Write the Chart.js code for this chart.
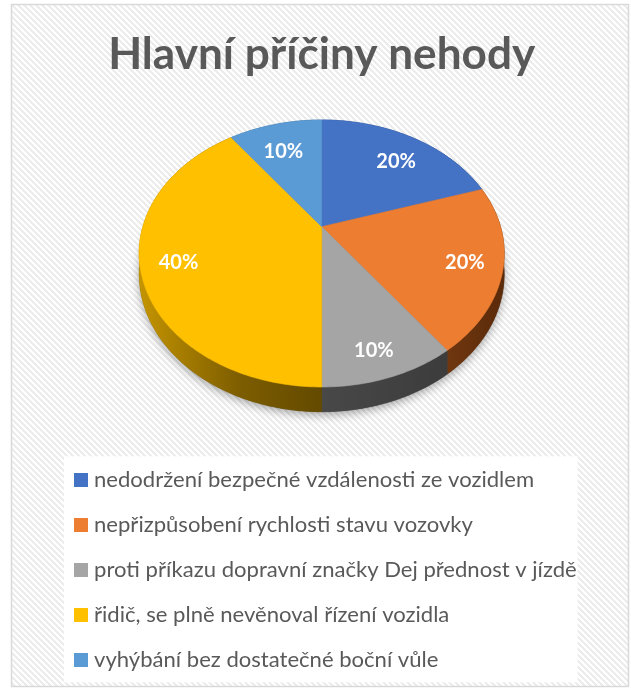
<!DOCTYPE html>
<html>
<head>
<meta charset="utf-8">
<script src="https://cdn.jsdelivr.net/npm/chart.js@4.4.1/dist/chart.umd.min.js"></script>
<style>
html,body{margin:0;padding:0;background:#fff;}
#wrap{width:631px;height:690px;position:relative;}
canvas{display:block;}
</style>
</head>
<body>
<div id="wrap"><canvas id="c" width="631" height="690"></canvas></div>
<script>
// ---- data ----
const titleText = 'Hlavní příčiny nehody';
const categories = [
  'nedodržení bezpečné vzdálenosti ze vozidlem',
  'nepřizpůsobení rychlosti stavu vozovky',
  'proti příkazu dopravní značky Dej přednost v jízdě',
  'řidič, se plně nevěnoval řízení vozidla',
  'vyhýbání bez dostatečné boční vůle'
];
const values = [20, 20, 10, 40, 10];
const sliceColors = ['#4472C4', '#ED7D31', '#A5A5A5', '#FFC000', '#5B9BD5'];
const sideStops = [
  [[0, '#2b4c88'], [1, '#22406f']],
  [[0, '#70370f'], [1, '#5a2a0a']],
  [[0, '#484848'], [1, '#3c3c3c']],
  [[0, '#c49400'], [0.55, '#7d5d00'], [1, '#634a00']],
  [[0, '#3c6e9c'], [1, '#2f5a82']]
];

// ---- style / projection constants ----
const FONT = 'Lato';
const P = 0.2007;      // perspective strength
const SK = 1.0959;     // horizontal scale vs radius
const TK = 0.7852;     // vertical scale vs radius
const HK = 0.1214;     // pie thickness vs radius
const LABEL_R = 0.8;
const LABEL_DROP = 0.0735;
const SWATCH = 14;

function fitSize(text, weight, targetW) {
  const c = document.createElement('canvas').getContext('2d');
  c.font = weight + ' 100px ' + FONT;
  return 100 * targetW / c.measureText(text).width;
}
const titleSize = fitSize(titleText, 'bold', 427);
const longest = categories.reduce((a, b) => {
  const c = document.createElement('canvas').getContext('2d');
  c.font = '100px ' + FONT;
  return c.measureText(b).width > c.measureText(a).width ? b : a;
});
const legendSize = fitSize(longest, 'normal', 483);
const labelSize = 20;

const titlePadTop = 54.5 - 0.6 * titleSize;
const titlePadBottom = 120 - titlePadTop - 1.2 * titleSize;
const legendPad = 45 - legendSize;
const bottomPad = 19.7 - legendSize / 2;
const legendBoxW = 4;
const padLeft = 74 + SWATCH / 2 - legendBoxW / 2 - legendPad;
const padRight = 631 + padLeft - 2 * 321.7;

function swatch(color) {
  const c = document.createElement('canvas'); c.width = SWATCH; c.height = SWATCH;
  const g = c.getContext('2d'); g.fillStyle = color; g.fillRect(0, 0, SWATCH, SWATCH);
  return c;
}

// hatch pattern
const hatch = (() => {
  const c = document.createElement('canvas'); c.width = 6; c.height = 6;
  const g = c.getContext('2d'); const img = g.createImageData(6, 6);
  for (let y = 0; y < 6; y++) for (let x = 0; x < 6; x++) {
    const k = ((x - y) % 6 + 6) % 6;
    const v = k < 3 ? 236 : 255;
    const i = (y * 6 + x) * 4;
    img.data[i] = img.data[i + 1] = img.data[i + 2] = v; img.data[i + 3] = 255;
  }
  g.putImageData(img, 0, 0); return c;
})();

const pie3d = {
  id: 'pie3d',
  beforeDraw(chart) {
    const ctx = chart.ctx;
    ctx.save();
    ctx.fillStyle = '#fff'; ctx.fillRect(0, 0, chart.width, chart.height);
    ctx.fillStyle = ctx.createPattern(hatch, 'repeat');
    ctx.fillRect(12, 5, 616, 681);
    ctx.strokeStyle = '#d9d9d9'; ctx.lineWidth = 1.5;
    ctx.strokeRect(11.5, 4.5, 617, 682);
    const lg = chart.legend;
    if (lg && lg.legendHitBoxes && lg.legendHitBoxes.length) {
      const hb = lg.legendHitBoxes;
      const x0 = Math.min(...hb.map(h => h.left)) - 15;
      const x1 = Math.max(...hb.map(h => h.left + h.width)) + 1;
      const y0 = hb[0].top - 13;
      const last = hb[hb.length - 1];
      const y1 = last.top + last.height + 11;
      ctx.fillStyle = '#fff'; ctx.fillRect(x0, y0, x1 - x0, y1 - y0);
    }
    ctx.restore();
  },
  beforeDatasetsDraw(chart) {
    const meta = chart.getDatasetMeta(0);
    const arcs = meta.data;
    if (!arcs.length) return false;
    const ctx = chart.ctx, ca = chart.chartArea;
    const R = arcs[0].outerRadius, X0 = arcs[0].x;
    const S = R * SK, T = R * TK, H = R * HK;
    const Y0 = ca.top + T / (1 + P);
    const pt = (a, r, down) => {
      const u = r * Math.cos(a), w = -r * Math.sin(a), d = 1 + P * w;
      return [X0 + S * u / d, Y0 - T * w / d + (down ? H / d : 0)];
    };
    const arcPts = (a0, a1, down) => {
      const n = Math.max(2, Math.ceil(Math.abs(a1 - a0) / (Math.PI / 180)));
      const pts = [];
      for (let k = 0; k <= n; k++) pts.push(pt(a0 + (a1 - a0) * k / n, 1, down));
      return pts;
    };
    const path = (pts) => {
      ctx.beginPath();
      pts.forEach((p, i) => i ? ctx.lineTo(p[0], p[1]) : ctx.moveTo(p[0], p[1]));
      ctx.closePath();
    };
    ctx.save();
    // soft shadow under the pie
    ctx.save();
    ctx.shadowColor = 'rgba(0,0,0,0.35)'; ctx.shadowBlur = 10; ctx.shadowOffsetY = 3;
    path(arcPts(-Math.PI / 2, 1.5 * Math.PI, true));
    ctx.fillStyle = '#555'; ctx.fill();
    ctx.restore();
    // side walls
    arcs.forEach((arc, i) => {
      const top = arcPts(arc.startAngle, arc.endAngle, false);
      const bot = arcPts(arc.startAngle, arc.endAngle, true).reverse();
      const all = top.concat(bot);
      const xs = all.map(p => p[0]);
      const minX = Math.min(...xs), maxX = Math.max(...xs);
      const g = ctx.createLinearGradient(minX, 0, maxX + 0.01, 0);
      sideStops[i].forEach(([o, c]) => g.addColorStop(o, c));
      path(all);
      ctx.fillStyle = g; ctx.fill();
      ctx.strokeStyle = g; ctx.lineWidth = 0.6; ctx.stroke();
    });
    // top faces
    arcs.forEach((arc) => {
      const pts = [[X0, Y0]].concat(arcPts(arc.startAngle, arc.endAngle, false));
      path(pts);
      ctx.fillStyle = arc.options.backgroundColor; ctx.fill();
      ctx.strokeStyle = arc.options.backgroundColor; ctx.lineWidth = 0.6; ctx.stroke();
    });
    // percentage labels
    const total = values.reduce((a, b) => a + b, 0);
    ctx.font = 'bold ' + labelSize + 'px ' + FONT;
    ctx.fillStyle = '#ffffff'; ctx.textAlign = 'center'; ctx.textBaseline = 'middle';
    arcs.forEach((arc, i) => {
      const mid = (arc.startAngle + arc.endAngle) / 2;
      const w = -LABEL_R * Math.sin(mid);
      const p = pt(mid, LABEL_R, false);
      const txt = Math.round(values[i] / total * 100) + '%';
      ctx.fillText(txt, p[0], p[1] + LABEL_DROP * R * Math.abs(w));
    });
    ctx.restore();
    return false;
  }
};

new Chart(document.getElementById('c'), {
  type: 'pie',
  data: {
    labels: categories,
    datasets: [{ data: values, backgroundColor: sliceColors, borderWidth: 0, hoverOffset: 0, offset: 0 }]
  },
  options: {
    responsive: false,
    animation: false,
    devicePixelRatio: 1,
    layout: { padding: { left: padLeft, right: padRight, top: 0, bottom: bottomPad } },
    plugins: {
      title: {
        display: true, text: titleText, color: '#595959',
        font: { family: FONT, weight: 'bold', size: titleSize, lineHeight: 1.2 },
        padding: { top: titlePadTop, bottom: titlePadBottom }
      },
      legend: {
        position: 'bottom', align: 'start',
        labels: {
          color: '#595959', font: { family: FONT, size: legendSize },
          usePointStyle: true, boxWidth: legendBoxW, boxHeight: SWATCH, padding: legendPad,
          generateLabels(chart) {
            const items = Chart.overrides.pie.plugins.legend.labels.generateLabels(chart);
            items.forEach(it => { it.pointStyle = swatch(it.fillStyle); });
            return items;
          }
        }
      },
      tooltip: { enabled: false }
    }
  },
  plugins: [pie3d]
});
</script>
</body>
</html>
